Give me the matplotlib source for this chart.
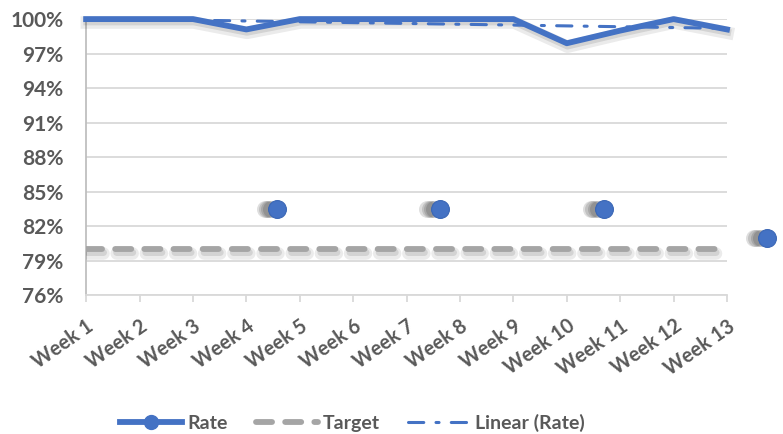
import matplotlib.pyplot as plt
import matplotlib.patheffects as pe
from matplotlib.lines import Line2D
from matplotlib.ticker import FuncFormatter
import numpy as np

plt.rcParams['font.family'] = ['Lato', 'DejaVu Sans']

weeks = ["Week 1", "Week 2", "Week 3", "Week 4", "Week 5", "Week 6", "Week 7",
         "Week 8", "Week 9", "Week 10", "Week 11", "Week 12", "Week 13"]
rate = [100, 100, 100, 99.1, 100, 100, 100, 100, 100, 97.9, 99.0, 100, 99.1]
target = [80] * 13
# stray markers (they show up off the line in the original)
stray_x = [4.58, 7.63, 10.7, 13.75]
stray_y = [83.5, 83.5, 83.5, 81.0]

blue = '#4472C4'
grey = '#A5A5A5'
txt = '#595959'

fig = plt.figure(figsize=(7.83, 4.34), dpi=100)
ax = fig.add_axes([0.110, 0.320, 0.8185, 0.636])

x = np.arange(1, 14)
shadow = [pe.SimpleLineShadow(offset=(0.5, -2.5), shadow_color='k', alpha=0.08, linewidth=9),
          pe.SimpleLineShadow(offset=(0.5, -2), shadow_color='k', alpha=0.10, linewidth=5),
          pe.Normal()]

tdash = (0, (2.75, 2.25))
ldash = (0, (5, 4, 1, 4))

ax.plot(x, target, color=grey, lw=4.2, ls=tdash, dash_capstyle='round',
        path_effects=shadow, zorder=3)
ax.plot(x, rate, color=blue, lw=4.2, path_effects=shadow, zorder=4, clip_on=False)

# linear trendline
k, b = np.polyfit(x, rate, 1)
trend = k * x + b
ax.plot(x, trend, color=blue, lw=2.2, ls=ldash, dash_capstyle='round', zorder=5)

# stray markers with their shadows
sx = np.array(stray_x)
for d in [0.24, 0.2, 0.16, 0.12]:
    ax.scatter(sx - d, stray_y, s=150, color='k', alpha=0.13, lw=0, clip_on=False, zorder=5)
ax.scatter(sx, stray_y, s=165, color=blue, edgecolor='#3A66B5', lw=0.8, clip_on=False, zorder=6)

ax.set_xlim(1, 13)
ax.set_ylim(76, 100)
ax.set_yticks(np.arange(76, 101, 3))
ax.yaxis.set_major_formatter(FuncFormatter(lambda v, p: f"{v:.0f}%"))
ax.set_xticks(x)
ax.set_xticklabels(weeks, rotation=35, ha='right', rotation_mode='anchor')

ax.grid(axis='y', color='#D9D9D9', lw=1.3, zorder=0)
for s in ['top', 'right']:
    ax.spines[s].set_visible(False)
ax.spines['left'].set_color('#BFBFBF')
ax.spines['bottom'].set_color('#D9D9D9')
ax.spines['left'].set_linewidth(1.3)
ax.spines['bottom'].set_linewidth(1.3)
ax.tick_params(axis='y', length=0, pad=16.5, labelsize=15, labelcolor=txt)
ax.tick_params(axis='x', length=5, width=1.3, color='#D9D9D9', pad=10, labelsize=14.3, labelcolor=txt)
for lab in ax.get_xticklabels() + ax.get_yticklabels():
    lab.set_fontweight('bold')

handles = [
    Line2D([], [], color=blue, lw=4.2, marker='o', markersize=10),
    Line2D([], [], color=grey, lw=4.2, ls=tdash, dash_capstyle='round'),
    Line2D([], [], color=blue, lw=2.2, ls=ldash, dash_capstyle='round'),
]
leg = fig.legend(handles, ['Rate', 'Target', 'Linear (Rate)'], loc='center',
                 bbox_to_anchor=(0.45, 0.025), ncol=3, frameon=False,
                 handlelength=3.2, columnspacing=1.45, handletextpad=0.25,
                 prop={'weight': 'bold', 'size': 14})
for t in leg.get_texts():
    t.set_color(txt)

fig.savefig('out.png', dpi=100)
